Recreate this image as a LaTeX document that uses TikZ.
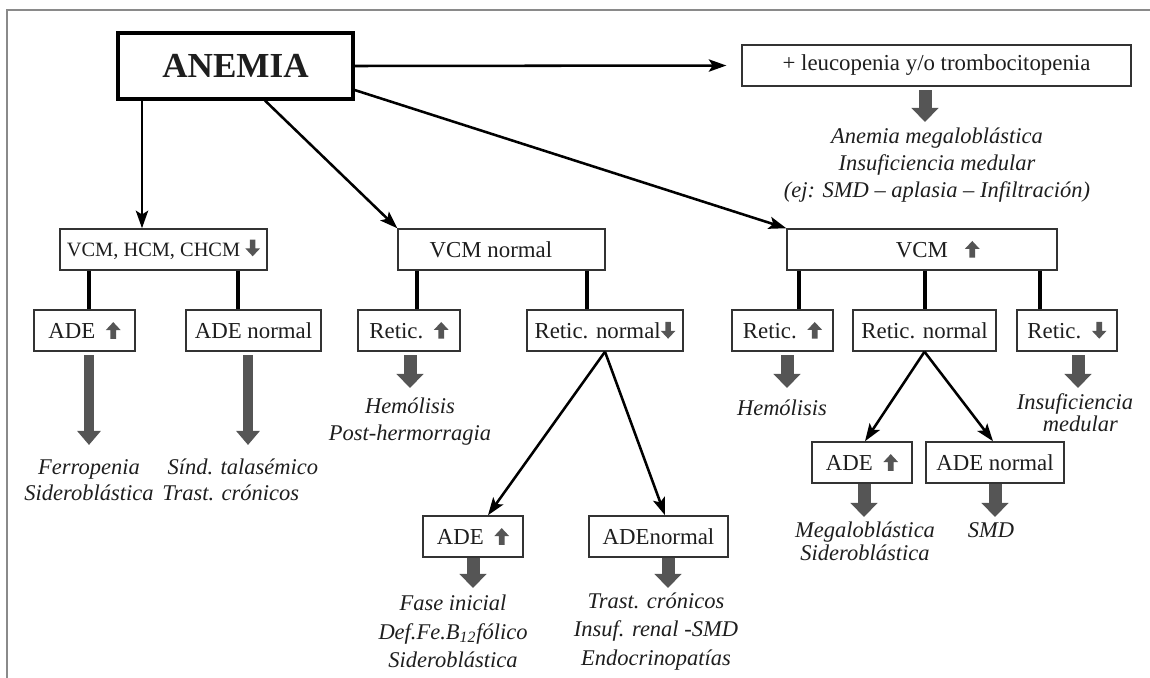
\documentclass[tikz,border=0pt]{standalone}
\usepackage{fontspec}
\setmainfont{Liberation Serif}
\usetikzlibrary{arrows.meta}
\definecolor{agray}{HTML}{555555}
\definecolor{bord}{HTML}{333333}
\definecolor{framec}{HTML}{8A8A8A}
\definecolor{ink}{HTML}{1E1E1E}
\newcommand\uparr{\tikz[baseline=0pt]\fill[agray] (-1.6pt,0pt) -- (1.6pt,0pt) -- (1.6pt,5pt) -- (4.2pt,5pt) -- (0pt,9.5pt) -- (-4.2pt,5pt) -- (-1.6pt,5pt) -- cycle;}
\newcommand\dnarr{\tikz[baseline=0pt]\fill[agray] (-1.6pt,9.5pt) -- (1.6pt,9.5pt) -- (1.6pt,4.5pt) -- (4.2pt,4.5pt) -- (0pt,0pt) -- (-4.2pt,4.5pt) -- (-1.6pt,4.5pt) -- cycle;}
\begin{document}
\begin{tikzpicture}[x=0.02cm,y=-0.02cm,
  bx/.style={draw=bord,line width=0.85pt,minimum height=0.82cm,inner sep=0pt,font=\fontsize{13}{15}\selectfont,text=ink,fill=white},
  it/.style={font=\fontsize{12.8}{#1}\selectfont\itshape,align=center,text=ink,inner sep=0pt},
  it/.default=15.6,
  arr/.style={line width=1.45pt,-{Stealth[length=10pt,width=7pt,inset=2.2pt]}},
  conn/.style={line width=2.2pt},
  garrS/.style={agray,line width=7.4pt,-{Triangle[length=8pt,width=15pt]}},
  garrL/.style={agray,line width=5.2pt,-{Triangle[length=8pt,width=13pt]}},
]
\useasboundingbox (0,0) rectangle (1150,678);
\draw[framec,line width=1.3pt] (7,678) -- (7,10) -- (1150,10);

% boxes
\node[draw=black,line width=1.8pt,minimum width=4.7cm,minimum height=1.32cm,inner sep=0pt,font=\fontsize{20}{24}\selectfont\bfseries,text=ink] (anemia) at (235.5,66) {ANEMIA};
\node[bx,minimum width=7.78cm] (leuco) at (936.5,65.5) {+ leucopenia y/o trombocitopenia};
\node[bx,minimum width=4.14cm] (vcm1) at (163.5,249.5) {\fontsize{11.6}{14}\selectfont VCM, HCM, CHCM \dnarr};
\node[bx,minimum width=4.14cm] (vcm2) at (501.5,249.5) {VCM normal\hspace*{12pt}};
\node[bx,minimum width=5.4cm] (vcm3) at (922,249.5) {\hspace*{18pt}VCM\hspace{9.6pt}\uparr};
\node[bx,minimum width=2.02cm] (ade1) at (84.5,330.5) {ADE\hspace{6pt}\uparr};
\node[bx,minimum width=2.7cm] (aden1) at (253.5,330.5) {ADE normal};
\node[bx,minimum width=2.04cm] (ret1) at (409,330.5) {Retic.\hspace{6pt}\uparr};
\node[bx,minimum width=3.12cm] (retn1) at (605,330.5) {Retic. normal\dnarr};
\node[bx,minimum width=2.02cm] (ret2) at (782.5,330.5) {Retic.\hspace{6pt}\uparr};
\node[bx,minimum width=2.86cm] (retn2) at (924.5,330.5) {Retic. normal};
\node[bx,minimum width=2.0cm] (retd2) at (1067,330.5) {Retic.\hspace{6pt}\dnarr};
\node[bx,minimum width=2.0cm] (ade3) at (473,536.5) {ADE\hspace{6pt}\uparr};
\node[bx,minimum width=2.78cm] (aden3) at (658.5,536.5) {ADEnormal};
\node[bx,minimum width=2.0cm] (ade4) at (862,462.5) {ADE\hspace{6pt}\uparr};
\node[bx,minimum width=2.76cm] (aden4) at (995,462.5) {ADE normal};

% texts
\node[it] (t0) at (937,165) {Anemia megaloblástica\\Insuficiencia medular\hspace*{28pt}\\(ej: SMD – aplasia – Infiltración)};
\node[it=14.7] (t1) at (89,480) {Ferropenia\\Sideroblástica};
\node[it=14.7,align=left,anchor=west] (t2) at (162,480) {\hspace*{3pt}Sínd. talasémico\\Trast. crónicos};
\node[it=15.3] (t3) at (410,421.5) {Hemólisis\\Post-hermorragia};
\node[it] (t4) at (782,408) {Hemólisis};
\node[it=12.5] (t5) at (1075,413) {Insuficiencia\\\hspace*{6pt}medular};
\node[it=13] (t6) at (865,541.5) {Megaloblástica\\Sideroblástica};
\node[it] (t7) at (991,530) {SMD};
\node[it=16.2] (t8) at (453,631.5) {Fase inicial\\Def.Fe.B\textsubscript{12}fólico\\Sideroblástica};
\node[it=16.2] (t9) at (656,631.5) {Trast. crónicos\\Insuf. renal -SMD\\Endocrinopatías};

% helper coordinates
\coordinate (xa) at (142,0);
\coordinate (xb) at (265,0);
\coordinate (yc) at (0,90);
\coordinate (c1) at (89,0);
\coordinate (c2) at (238,0);
\coordinate (c3) at (417,0);
\coordinate (c4) at (587,0);
\coordinate (c5) at (799,0);
\coordinate (c6) at (925,0);
\coordinate (c7) at (1040,0);
\coordinate (d1) at (488,0);
\coordinate (d2) at (665,0);
\coordinate (d3) at (865,0);
\coordinate (d4) at (993,0);
\coordinate (g0) at (925,122);
\coordinate (g1) at (89,445);
\coordinate (g2) at (248,445);
\coordinate (g3) at (410,388);
\coordinate (g4) at (787,388);
\coordinate (g5) at (1078,388);
\coordinate (g6) at (473,588);
\coordinate (g7) at (668,588);
\coordinate (g8) at (864,517);
\coordinate (g9) at (995,517);

% black arrows
\draw[arr] (anemia.south -| xa) -- (vcm1.north -| xa);
\draw[arr] (anemia.south -| xb) -- (vcm2.north west);
\draw[arr] (anemia.east |- yc) -- (vcm3.north west);
\draw[arr,shorten >=8.5pt] (anemia.east) -- (leuco.west);
\draw[arr] (retn1.south) -- (ade3.north -| d1);
\draw[arr] (retn1.south) -- (aden3.north -| d2);
\draw[arr] (retn2.south) -- (ade4.north -| d3);
\draw[arr] (retn2.south) -- (aden4.north -| d4);

% thick connectors
\draw[conn] (vcm1.south -| c1) -- (ade1.north -| c1);
\draw[conn] (vcm1.south -| c2) -- (aden1.north -| c2);
\draw[conn] (vcm2.south -| c3) -- (ret1.north -| c3);
\draw[conn] (vcm2.south -| c4) -- (retn1.north -| c4);
\draw[conn] (vcm3.south -| c5) -- (ret2.north -| c5);
\draw[conn] (vcm3.south -| c6) -- (retn2.north -| c6);
\draw[conn] (vcm3.south -| c7) -- (retd2.north -| c7);

% gray block arrows
\draw[garrS,shorten <=2pt] (leuco.south -| g0) -- (g0);
\draw[garrL,shorten <=2pt] (ade1.south -| g1) -- (g1);
\draw[garrL,shorten <=2pt] (aden1.south -| g2) -- (g2);
\draw[garrS,shorten <=2pt] (ret1.south -| g3) -- (g3);
\draw[garrS,shorten <=2pt] (ret2.south -| g4) -- (g4);
\draw[garrS,shorten <=2pt] (retd2.south -| g5) -- (g5);
\draw[garrS] (ade3.south -| g6) -- (g6);
\draw[garrS] (aden3.south -| g7) -- (g7);
\draw[garrS] (ade4.south -| g8) -- (g8);
\draw[garrS] (aden4.south -| g9) -- (g9);
\end{tikzpicture}
\end{document}
